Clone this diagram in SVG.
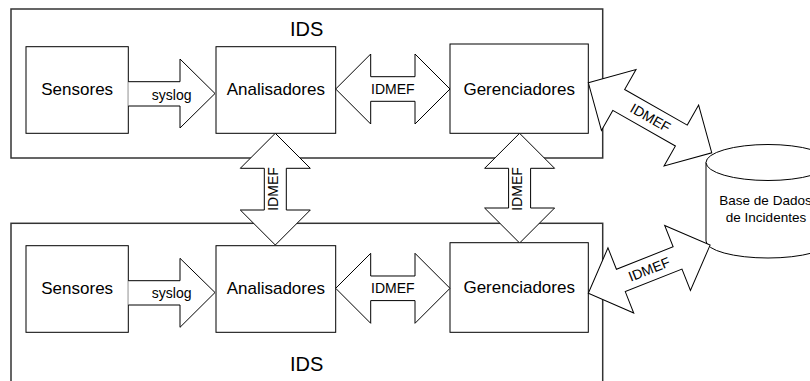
<svg xmlns="http://www.w3.org/2000/svg" width="810" height="381" viewBox="0 0 810 381">
  <style>
    text { font-family: "Liberation Sans", Arial, sans-serif; fill: #000; text-anchor: middle; }
    .frame { fill: #fff; stroke: #333; stroke-width: 1.5; }
    .box { fill: #fff; stroke: #000; stroke-width: 1; }
    .arrow { fill: #fff; stroke: #000; stroke-width: 1; stroke-linejoin: miter; }
    .node { font-size: 17px; }
    .title { font-size: 20px; }
    .lbl { font-size: 14px; }
    .db { font-size: 13.5px; }
  </style>

  <!-- IDS containers -->
  <g id="ids-top">
    <rect class="frame" x="11" y="9" width="591.7" height="149"/>
    <text class="title" x="306.7" y="35.5">IDS</text>
  </g>
  <g id="ids-bottom">
    <rect class="frame" x="11" y="223.3" width="591.7" height="170"/>
    <text class="title" x="306.7" y="370.5">IDS</text>
  </g>

  <!-- components of the upper IDS -->
  <g id="sensores-top">
    <rect class="box" x="26" y="46.7" width="102.3" height="86.6"/>
    <text class="node" x="77.2" y="95.4">Sensores</text>
  </g>
  <g id="analisadores-top">
    <rect class="box" x="216" y="46.7" width="119.7" height="86.6"/>
    <text class="node" x="275.8" y="95.4">Analisadores</text>
  </g>
  <g id="gerenciadores-top">
    <rect class="box" x="450" y="44" width="138.3" height="89.3"/>
    <text class="node" x="519.2" y="94.5">Gerenciadores</text>
  </g>

  <!-- components of the lower IDS -->
  <g id="sensores-bottom">
    <rect class="box" x="26" y="245.7" width="102.3" height="86.6"/>
    <text class="node" x="77.2" y="294.4">Sensores</text>
  </g>
  <g id="analisadores-bottom">
    <rect class="box" x="216" y="245.7" width="119.7" height="86.6"/>
    <text class="node" x="275.8" y="294.4">Analisadores</text>
  </g>
  <g id="gerenciadores-bottom">
    <rect class="box" x="450" y="242.7" width="138.3" height="89.6"/>
    <text class="node" x="519.2" y="292.8">Gerenciadores</text>
  </g>

  <!-- incident database -->
  <g id="base-incidentes">
    <path class="box" d="M706,162.5 V241 A62,17 0 0 0 830,241 V162.5"/>
    <ellipse class="box" cx="768" cy="162.5" rx="62" ry="18"/>
    <text class="db" x="765.5" y="205">Base de Dados</text>
    <text class="db" x="766" y="221.5">de Incidentes</text>
  </g>

  <!-- block arrows -->
  <g id="connectors">
    <!-- syslog: sensores -> analisadores -->
    <path class="arrow" d="M128.3,81.7 H180 V59 L215,93.5 L180,128 V106 H128.3"/>
    <text class="lbl" x="171.7" y="99.5">syslog</text>
    <path class="arrow" d="M128.3,280.7 H180 V258.3 L215,292.5 L180,327.3 V305 H128.3"/>
    <text class="lbl" x="171.7" y="298.3">syslog</text>

    <!-- IDMEF: analisadores <-> gerenciadores -->
    <path class="arrow" transform="translate(335.7,89)" d="M0,0 L35,-35 V-12.3 H79.3 V-35 L114.3,0 L79.3,35 V12.3 H35 V35 Z"/>
    <text class="lbl" x="392.8" y="94">IDMEF</text>
    <path class="arrow" transform="translate(335.7,288.3)" d="M0,0 L35,-35 V-12.3 H79.3 V-35 L114.3,0 L79.3,35 V12.3 H35 V35 Z"/>
    <text class="lbl" x="392.8" y="293.3">IDMEF</text>

    <!-- IDMEF: between the two IDS -->
    <path class="arrow" transform="translate(275.3,133.3) rotate(90)" d="M0,0 L35,-35 V-11 H76.7 V-35 L111.7,0 L76.7,35 V11 H35 V35 Z"/>
    <text class="lbl" transform="translate(272.5,189) rotate(-90)" y="5">IDMEF</text>
    <path class="arrow" transform="translate(519.6,133.3) rotate(90)" d="M0,0 L35,-35 V-11 H74.7 V-35 L109.7,0 L74.7,35 V11 H35 V35 Z"/>
    <text class="lbl" transform="translate(516.6,189) rotate(-90)" y="5">IDMEF</text>

    <!-- IDMEF: gerenciadores <-> base de dados -->
    <path class="arrow" transform="translate(588.3,82.7) rotate(29.6)" d="M0,0 L35,-35 V-12 H107 V-35 L142,0 L107,35 V12 H35 V35 Z"/>
    <text class="lbl" transform="translate(650.5,117.7) rotate(29.6)" y="5">IDMEF</text>
    <path class="arrow" transform="translate(588.3,293.3) rotate(-21.6)" d="M0,0 L35,-35 V-12 H96 V-35 L131,0 L96,35 V12 H35 V35 Z"/>
    <text class="lbl" transform="translate(649.2,269.2) rotate(-21.6)" y="5">IDMEF</text>
  </g>
</svg>
